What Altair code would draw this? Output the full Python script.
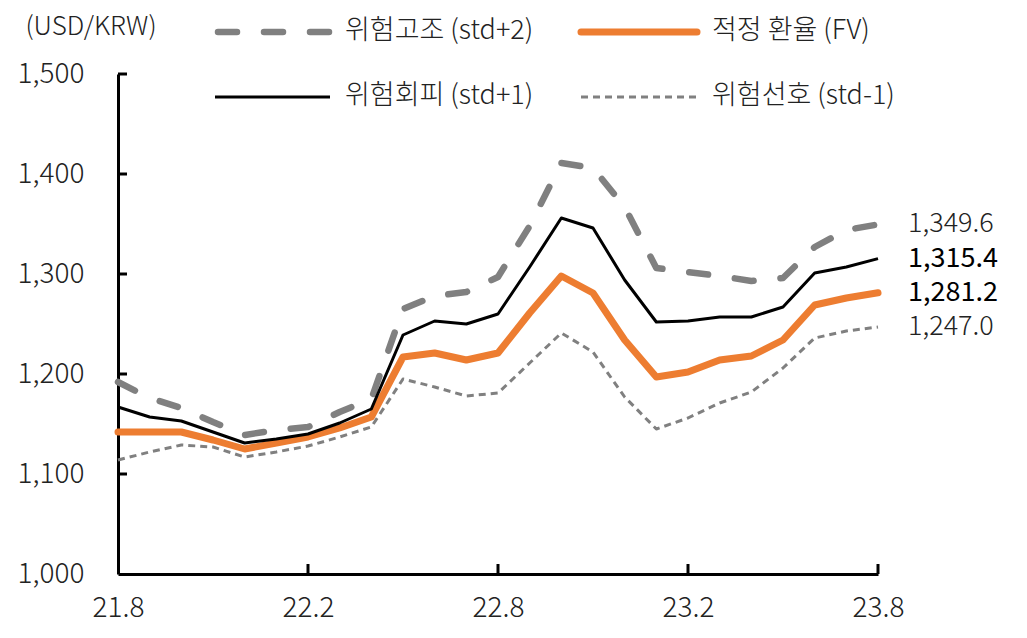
import altair as alt
import pandas as pd

FONT = "Noto Sans CJK KR"
TXT = "#222222"

months = ["21.8", "21.9", "21.10", "21.11", "21.12", "22.1", "22.2", "22.3", "22.4",
          "22.5", "22.6", "22.7", "22.8", "22.9", "22.10", "22.11", "22.12", "23.1",
          "23.2", "23.3", "23.4", "23.5", "23.6", "23.7", "23.8"]

risk_high = [1192, 1176, 1166, 1152, 1139, 1144, 1147, 1162, 1175, 1265, 1278, 1282, 1297,
             1348, 1411, 1406, 1367, 1306, 1302, 1298, 1293, 1296, 1327, 1344, 1349.6]
fair_value = [1142, 1142, 1142, 1134, 1125, 1131, 1137, 1146, 1157, 1217, 1221, 1214, 1221,
              1261, 1298, 1281, 1234, 1197, 1202, 1214, 1218, 1234, 1269, 1276, 1281.2]
risk_off = [1167, 1157, 1153, 1142, 1131, 1135, 1140, 1151, 1165, 1239, 1253, 1250, 1260,
            1307, 1356, 1346, 1294, 1252, 1253, 1257, 1257, 1267, 1301, 1307, 1315.4]
risk_on = [1114, 1122, 1129, 1127, 1117, 1122, 1128, 1137, 1147, 1195, 1187, 1178, 1181,
           1211, 1241, 1222, 1177, 1145, 1156, 1171, 1182, 1206, 1236, 1243, 1247.0]

series_names = ["위험고조 (std+2)", "적정 환율 (FV)", "위험회피 (std+1)", "위험선호 (std-1)"]
series_values = [risk_high, fair_value, risk_off, risk_on]

x_ticks = ["21.8", "22.2", "22.8", "23.2", "23.8"]
y_ticks = [1000, 1100, 1200, 1300, 1400, 1500]

W, H = 760, 500

idx = list(range(len(months)))
tick_idx = [months.index(t) for t in x_ticks]
label_expr = "{" + ",".join(f"'{i}':'{t}'" for i, t in zip(tick_idx, x_ticks)) + "}[datum.value]"

styles = {
    series_names[0]: dict(color="#808080", strokeWidth=6.5, strokeDash=[19, 27], strokeCap="round"),
    series_names[1]: dict(color="#ED7D31", strokeWidth=7, strokeCap="round"),
    series_names[2]: dict(color="#000000", strokeWidth=3),
    series_names[3]: dict(color="#808080", strokeWidth=3, strokeDash=[7, 5]),
}

X = alt.X("idx:Q",
          scale=alt.Scale(domain=[0, len(months) - 1], nice=False, zero=False),
          axis=alt.Axis(values=tick_idx, labelExpr=label_expr, labelAngle=0, ticks=False,
                        tickSize=0, labelPadding=20, labelFontSize=28, labelFont=FONT,
                        labelFontWeight=300, labelColor=TXT, labelFlush=False,
                        domainColor="black", domainWidth=3, grid=False, title=None))
Y = alt.Y("value:Q",
          scale=alt.Scale(domain=[1000, 1500], nice=False, zero=False),
          axis=alt.Axis(values=y_ticks, format=",d", ticks=False, tickSize=0,
                        labelPadding=34, labelFontSize=28, labelFont=FONT, labelFontWeight=300,
                        labelColor=TXT, labelFlush=False,
                        domainColor="black", domainWidth=3, grid=False, title=None))

layers = []
for name, vals in zip(series_names, series_values):
    df = pd.DataFrame({"idx": idx, "month": months, "value": vals, "series": name})
    layers.append(alt.Chart(df).mark_line(strokeJoin="round", **styles[name]).encode(x=X, y=Y))

# inward ticks
ytick_df = pd.DataFrame({"value": y_ticks[1:]})
layers.append(alt.Chart(ytick_df).mark_rule(color="black", strokeWidth=3).encode(
    y=Y, x=alt.value(0), x2=alt.value(9)))
xtick_df = pd.DataFrame({"idx": tick_idx[1:]})
layers.append(alt.Chart(xtick_df).mark_rule(color="black", strokeWidth=3).encode(
    x=X, y=alt.value(H), y2=alt.value(H - 10)))

# end labels
end_df = pd.DataFrame({
    "idx": [idx[-1]] * 4,
    "value": [risk_high[-1], risk_off[-1], fair_value[-1], risk_on[-1]],
    "strong": [False, True, True, False],
})
layers.append(alt.Chart(end_df[~end_df["strong"]]).mark_text(
    align="left", baseline="middle", dx=30, font=FONT, fontSize=27, fontWeight=300,
    color=TXT).encode(x=X, y=Y, text=alt.Text("value:Q", format=",.1f")))
layers.append(alt.Chart(end_df[end_df["strong"]]).mark_text(
    align="left", baseline="middle", dx=30, font=FONT, fontSize=27, fontWeight=400,
    color="#000000").encode(
    x=X, y=Y, text=alt.Text("value:Q", format=",.1f")))

# unit title
layers.append(alt.Chart(pd.DataFrame({"t": ["(USD/KRW)"]})).mark_text(
    align="center", baseline="middle", font=FONT, fontSize=26, fontWeight=300, color=TXT).encode(
    text="t:N", x=alt.value(-27), y=alt.value(-47)))

# manual legend
leg = [
    (series_names[0], 100, 212, -42, 227),
    (series_names[1], 463, 579, -42, 594),
    (series_names[2], 97, 212, 23, 227),
    (series_names[3], 463, 582, 23, 594),
]
for name, x1, x2, yy, tx in leg:
    st = dict(styles[name])
    layers.append(alt.Chart(pd.DataFrame({"s": [name]})).mark_rule(**st).encode(
        x=alt.value(x1), x2=alt.value(x2), y=alt.value(yy)))
    layers.append(alt.Chart(pd.DataFrame({"s": [name]})).mark_text(
        align="left", baseline="middle", font=FONT, fontSize=27, fontWeight=300,
        color=TXT).encode(text="s:N", x=alt.value(tx), y=alt.value(yy - 1)))

chart = alt.layer(*layers).properties(
    width=W, height=H,
    autosize=alt.AutoSizeParams(type="none"),
    padding={"left": 110, "top": 66, "right": 141, "bottom": 56},
    background="white",
).configure_view(stroke=None)

chart.save("out.html", embed_options={"renderer": "svg", "actions": False})
